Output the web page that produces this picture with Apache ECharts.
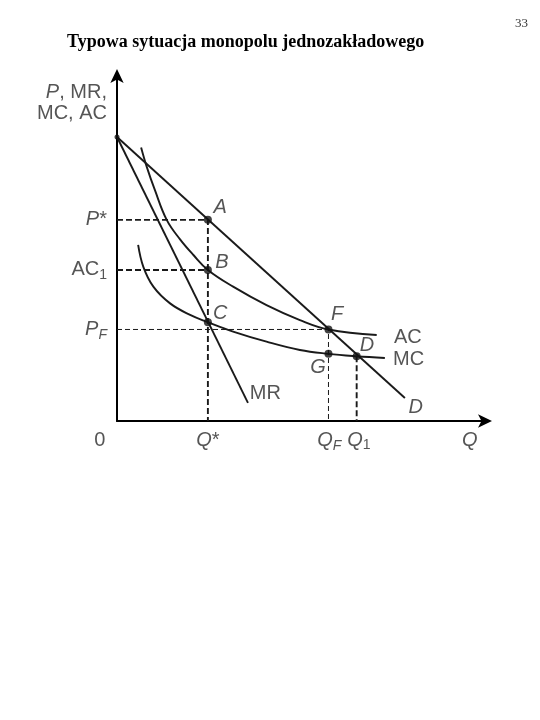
<!DOCTYPE html>
<html><head><meta charset="utf-8">
<script src="https://cdn.jsdelivr.net/npm/echarts@6/dist/echarts.min.js"></script>
<style>html,body{margin:0;padding:0;background:#fff}#c{width:540px;height:720px}</style>
</head><body><div id="c"></div><script>
// Curves (Q, P) in chart units
const demand = [[0, 8.16], [7.76, 0.66]];
const mr = [[0, 8.16], [3.53, 0.52]];
const ac = [[0.65,7.86],[0.80,7.31],[1.02,6.64],[1.34,5.78],[1.70,5.22],[2.06,4.77],[2.45,4.34],[3.13,3.86],[4.03,3.33],[4.93,2.90],[5.70,2.63],[7.0,2.47]];
const mc = [[0.57,5.06],[0.71,4.43],[0.98,3.86],[1.43,3.38],[1.97,3.05],[2.45,2.84],[3.13,2.57],[4.03,2.28],[4.93,2.04],[5.70,1.93],[6.46,1.86],[7.22,1.81]];
// Key levels
const pStar = 5.78, ac1 = 4.34, pF = 2.63, qStar = 2.45, qF = 5.70, q1 = 6.46;
// Marked points
const pointNames = ['A','B','C','F','G','D'];
const pointXY = [[2.45,5.78],[2.45,4.34],[2.45,2.84],[5.70,2.63],[5.70,1.93],[6.46,1.86]];
const pointLabelXY = [[2.78,6.15],[2.83,4.57],[2.78,3.10],[5.93,3.05],[5.42,1.55],[6.74,2.18]];
// Curve labels
const curveNames = ['AC','MC','MR','D'];
const curveLabelXY = [[7.84,2.41],[7.86,1.78],[4.0,0.80],[8.05,0.40]];
// Tick labels
const yTickLabels = ['{i|P}{n|*}','{n|AC}{s|1}','{i|P}{si|F}'];
const yTickValues = [pStar, ac1, pF];
const xTickLabels = ['{n|0}','{i|Q}{n|*}','{i|Q}{si|F}','{i|Q}{s|1}','{i|Q}'];
const xTickValues = [-0.46, qStar, 5.72, 6.52, 9.51];
const yAxisTitle = '{i|P}{n|, MR,}\n{n|MC, AC}';

const ink = '#1a1a1a';
const txt = '#2a2a2a';
const FONT = 'Liberation Sans';
const FS = 20;
const rich = {
  n: {fontFamily: FONT, fontSize: FS, color: txt, lineHeight: 21},
  i: {fontFamily: FONT, fontSize: FS, color: txt, fontStyle: 'italic', lineHeight: 21},
  s: {fontFamily: FONT, fontSize: 14, color: txt, lineHeight: 14, padding: [11,0,0,0]},
  si: {fontFamily: FONT, fontSize: 14, color: txt, fontStyle: 'italic', lineHeight: 14, padding: [11,0,0,0]}
};

function lineSeries(data, opts) {
  return Object.assign({type: 'line', data: data, symbol: 'none', silent: true,
    lineStyle: {color: ink, width: 1.9}, z: 3, animation: false}, opts || {});
}
function textSeries(items, align, z) {
  return {type: 'scatter', clip: false, silent: true, symbolSize: 1, animation: false, z: z || 6,
    itemStyle: {color: 'rgba(0,0,0,0)'},
    data: items.map(it => ({value: it[1], label: {formatter: it[0]}})),
    label: {show: true, position: 'inside', align: align || 'center', verticalAlign: 'middle', rich: rich,
      fontFamily: FONT, fontSize: FS, color: txt}};
}

const chart = echarts.init(document.getElementById('c'), null, {renderer: 'canvas'});
chart.setOption({
  backgroundColor: '#fff',
  animation: false,
  title: [
    {text: 'Typowa sytuacja monopolu jednozakładowego', left: 62, top: 28,
      textStyle: {fontFamily: 'Liberation Serif', fontWeight: 'bold', fontSize: 18, color: '#000'}},
    {text: '33', right: 7, top: 12,
      textStyle: {fontFamily: 'Liberation Serif', fontWeight: 'normal', fontSize: 13, color: '#333'}}
  ],
  grid: {left: 117, top: 73, width: 371, height: 348},
  xAxis: {type: 'value', min: 0, max: 10,
    axisLine: {show: true, onZero: false, symbol: ['none', 'arrow'], symbolSize: [10, 14], symbolOffset: [0, 4],
      lineStyle: {color: '#000', width: 2}},
    axisTick: {show: false}, axisLabel: {show: false}, splitLine: {show: false}},
  yAxis: {type: 'value', min: 0, max: 10,
    axisLine: {show: true, onZero: false, symbol: ['none', 'arrow'], symbolSize: [10, 14], symbolOffset: [0, 4],
      lineStyle: {color: '#000', width: 2}},
    axisTick: {show: false}, axisLabel: {show: false}, splitLine: {show: false}},
  series: [
    lineSeries(demand),
    lineSeries(mr),
    lineSeries(ac, {smooth: 0.4}),
    lineSeries(mc, {smooth: 0.4}),
    // dashed guides
    lineSeries([[0, pStar], [qStar, pStar], [qStar, 0]], {lineStyle: {color: ink, width: 1.9, type: [6, 3]}, z: 2}),
    lineSeries([[0, ac1], [qStar, ac1]], {lineStyle: {color: ink, width: 1.9, type: [6, 3]}, z: 2}),
    lineSeries([[0, pF], [qF, pF], [qF, 0]], {lineStyle: {color: ink, width: 1, type: [5, 3]}, z: 2}),
    lineSeries([[q1, pointXY[5][1]], [q1, 0]], {lineStyle: {color: ink, width: 1.9, type: [6, 3]}, z: 2}),
    // points
    {type: 'scatter', data: pointXY, symbolSize: 8, itemStyle: {color: '#111'}, z: 5, silent: true, animation: false},
    {type: 'scatter', data: [demand[0]], symbolSize: 5, itemStyle: {color: '#111'}, z: 5, clip: false, silent: true, animation: false},
    // labels
    textSeries(pointNames.map((n, i) => ['{i|' + n + '}', pointLabelXY[i]])),
    textSeries(curveNames.map((n, i) => [n === 'D' ? '{i|D}' : '{n|' + n + '}', curveLabelXY[i]])),
    textSeries(yTickLabels.map((t, i) => [t, [-0.27, yTickValues[i]]]), 'right'),
    textSeries(xTickLabels.map((t, i) => [t, [xTickValues[i], -0.55]])),
    textSeries([[yAxisTitle, [-0.27, 9.15]]], 'right')
  ]
});
</script></body></html>
